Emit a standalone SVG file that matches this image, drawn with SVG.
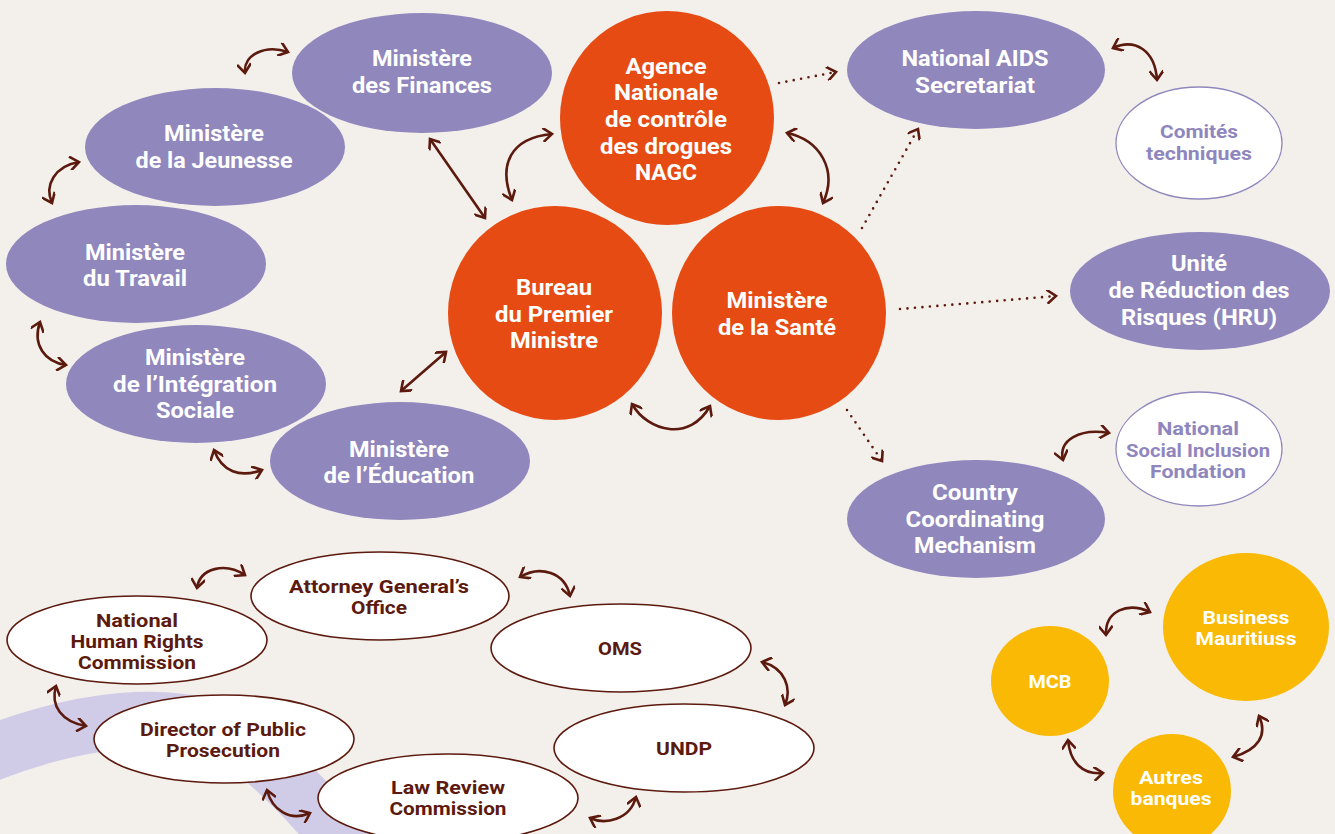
<svg xmlns="http://www.w3.org/2000/svg" width="1335" height="834" viewBox="0 0 1335 834">
<defs>
<marker id="ah" viewBox="0 0 14 14" refX="11" refY="7" markerWidth="14" markerHeight="14" markerUnits="userSpaceOnUse" orient="auto-start-reverse">
<path d="M 2 0 L 11 7 L 2 14" fill="none" stroke="#5c1a0e" stroke-width="2.6"/>
</marker>
<style>
.pur{fill:#9087bd}
.org{fill:#e64b13}
.yel{fill:#f9b904}
.wl{fill:#ffffff;stroke:#9087bd;stroke-width:1.3}
.wb{fill:#ffffff;stroke:#5c1a0e;stroke-width:1.6}
text{font-family:Roboto,"Noto Sans","DejaVu Sans",sans-serif;font-weight:700;text-anchor:middle}
.tw{fill:#ffffff;font-size:22px}
.tl{fill:#8f86be;font-size:19px}
.ty{fill:#ffffff;font-size:19px}
.tb{fill:#5c1a0e;font-size:19px}
.arr{fill:none;stroke:#5c1a0e;stroke-width:2.6;marker-start:url(#ah);marker-end:url(#ah)}
.dot{fill:none;stroke:#5c1a0e;stroke-width:2.6;stroke-linecap:round;stroke-dasharray:0 7.5;marker-end:url(#ah)}
</style>
</defs>
<rect width="1335" height="834" fill="#f3efeb"/>
<path d="M -30 762 C 60 722 190 696 255 752 C 292 784 330 822 362 870" fill="none" stroke="#d0cce8" stroke-width="56"/>

<g id="connectors">
<path class="arr" d="M 245 73 C 243 55 265 44 288 52"/>
<path class="arr" d="M 52 203 C 44 185 55 166 79 162"/>
<path class="arr" d="M 40 322 C 32 345 45 362 66 365"/>
<path class="arr" d="M 214 450 C 222 472 240 478 262 470"/>
<path class="arr" d="M 401 391 L 446 352"/>
<path class="arr" d="M 430 139 L 485 218"/>
<path class="arr" d="M 512 200 C 498 165 510 138 552 134"/>
<path class="arr" d="M 787 133 C 820 140 838 170 823 203"/>
<path class="arr" d="M 632 404 C 648 432 690 442 710 406"/>
<path class="dot" d="M 779 83 L 836 72"/>
<path class="dot" d="M 862 228 L 918 129"/>
<path class="dot" d="M 900 309 L 1056 296"/>
<path class="dot" d="M 847 410 L 882 461"/>
<path class="arr" d="M 1113 48 C 1135 38 1155 50 1157 80"/>
<path class="arr" d="M 1063 460 C 1058 440 1080 428 1109 433"/>
<path class="arr" d="M 197 588 C 200 568 225 562 245 575"/>
<path class="arr" d="M 520 577 C 540 565 565 572 570 596"/>
<path class="arr" d="M 762 662 C 785 668 792 688 785 705"/>
<path class="arr" d="M 56 686 C 50 706 62 722 86 726"/>
<path class="arr" d="M 267 790 C 272 810 290 822 310 813"/>
<path class="arr" d="M 590 818 C 605 825 630 820 636 797"/>
<path class="arr" d="M 1106 635 C 1105 610 1128 602 1150 612"/>
<path class="arr" d="M 1068 740 C 1070 762 1082 775 1103 773"/>
<path class="arr" d="M 1233 757 C 1258 750 1268 735 1259 716"/>
</g>

<g id="finances"><ellipse class="pur" cx="422" cy="73" rx="130" ry="60"/>
<text class="tw" x="422" y="66" textLength="100" lengthAdjust="spacingAndGlyphs">Ministère</text>
<text class="tw" x="422" y="93" textLength="140" lengthAdjust="spacingAndGlyphs">des Finances</text></g>

<g id="jeunesse"><ellipse class="pur" cx="215" cy="147" rx="130" ry="59"/>
<text class="tw" x="214" y="141" textLength="100" lengthAdjust="spacingAndGlyphs">Ministère</text>
<text class="tw" x="214" y="168" textLength="157" lengthAdjust="spacingAndGlyphs">de la Jeunesse</text></g>

<g id="travail"><ellipse class="pur" cx="136" cy="264" rx="130" ry="59"/>
<text class="tw" x="135" y="260" textLength="100" lengthAdjust="spacingAndGlyphs">Ministère</text>
<text class="tw" x="135" y="286" textLength="104" lengthAdjust="spacingAndGlyphs">du Travail</text></g>

<g id="integration"><ellipse class="pur" cx="196" cy="384" rx="130" ry="59"/>
<text class="tw" x="195" y="365" textLength="100" lengthAdjust="spacingAndGlyphs">Ministère</text>
<text class="tw" x="195" y="392" textLength="164" lengthAdjust="spacingAndGlyphs">de l’Intégration</text>
<text class="tw" x="195" y="418" textLength="78" lengthAdjust="spacingAndGlyphs">Sociale</text></g>

<g id="education"><ellipse class="pur" cx="400" cy="461" rx="130" ry="59"/>
<text class="tw" x="399" y="457" textLength="100" lengthAdjust="spacingAndGlyphs">Ministère</text>
<text class="tw" x="399" y="483" textLength="151" lengthAdjust="spacingAndGlyphs">de l’Éducation</text></g>

<g id="agence"><circle class="org" cx="667" cy="118" r="107"/>
<text class="tw" x="666" y="74" textLength="81" lengthAdjust="spacingAndGlyphs">Agence</text>
<text class="tw" x="666" y="100" textLength="104" lengthAdjust="spacingAndGlyphs">Nationale</text>
<text class="tw" x="666" y="127" textLength="122" lengthAdjust="spacingAndGlyphs">de contrôle</text>
<text class="tw" x="666" y="154" textLength="132" lengthAdjust="spacingAndGlyphs">des drogues</text>
<text class="tw" x="666" y="180" textLength="62" lengthAdjust="spacingAndGlyphs">NAGC</text></g>

<g id="bureau"><circle class="org" cx="555" cy="313" r="107"/>
<text class="tw" x="554" y="295" textLength="76" lengthAdjust="spacingAndGlyphs">Bureau</text>
<text class="tw" x="554" y="322" textLength="118" lengthAdjust="spacingAndGlyphs">du Premier</text>
<text class="tw" x="554" y="348" textLength="88" lengthAdjust="spacingAndGlyphs">Ministre</text></g>

<g id="sante"><circle class="org" cx="779" cy="313" r="107"/>
<text class="tw" x="777" y="308" textLength="101" lengthAdjust="spacingAndGlyphs">Ministère</text>
<text class="tw" x="777" y="335" textLength="118" lengthAdjust="spacingAndGlyphs">de la Santé</text></g>

<g id="aids"><ellipse class="pur" cx="976" cy="70" rx="129" ry="59"/>
<text class="tw" x="975" y="66" textLength="147" lengthAdjust="spacingAndGlyphs">National AIDS</text>
<text class="tw" x="975" y="93" textLength="120" lengthAdjust="spacingAndGlyphs">Secretariat</text></g>

<g id="comites"><ellipse class="wl" cx="1199" cy="143" rx="83" ry="56"/>
<text class="tl" x="1199" y="138" textLength="78" lengthAdjust="spacingAndGlyphs">Comités</text>
<text class="tl" x="1199" y="160" textLength="106" lengthAdjust="spacingAndGlyphs">techniques</text></g>

<g id="unite"><ellipse class="pur" cx="1200" cy="291" rx="130" ry="59"/>
<text class="tw" x="1199" y="271" textLength="56" lengthAdjust="spacingAndGlyphs">Unité</text>
<text class="tw" x="1199" y="298" textLength="181" lengthAdjust="spacingAndGlyphs">de Réduction des</text>
<text class="tw" x="1199" y="325" textLength="156" lengthAdjust="spacingAndGlyphs">Risques (HRU)</text></g>

<g id="nsif"><ellipse class="wl" cx="1199" cy="449" rx="83" ry="57"/>
<text class="tl" x="1198" y="435" textLength="82" lengthAdjust="spacingAndGlyphs">National</text>
<text class="tl" x="1198" y="457" textLength="144" lengthAdjust="spacingAndGlyphs">Social Inclusion</text>
<text class="tl" x="1198" y="478" textLength="96" lengthAdjust="spacingAndGlyphs">Fondation</text></g>

<g id="ccm"><ellipse class="pur" cx="976" cy="519" rx="129" ry="59"/>
<text class="tw" x="975" y="500" textLength="86" lengthAdjust="spacingAndGlyphs">Country</text>
<text class="tw" x="975" y="527" textLength="139" lengthAdjust="spacingAndGlyphs">Coordinating</text>
<text class="tw" x="975" y="553" textLength="122" lengthAdjust="spacingAndGlyphs">Mechanism</text></g>

<g id="business"><ellipse class="yel" cx="1246" cy="627" rx="83" ry="74"/>
<text class="ty" x="1246" y="624" textLength="87" lengthAdjust="spacingAndGlyphs">Business</text>
<text class="ty" x="1246" y="645" textLength="101" lengthAdjust="spacingAndGlyphs">Mauritiuss</text></g>

<g id="mcb"><ellipse class="yel" cx="1050" cy="681" rx="59" ry="55"/>
<text class="ty" x="1050" y="688" textLength="43" lengthAdjust="spacingAndGlyphs">MCB</text></g>

<g id="autres"><ellipse class="yel" cx="1172" cy="791" rx="59" ry="57"/>
<text class="ty" x="1171" y="784" textLength="64" lengthAdjust="spacingAndGlyphs">Autres</text>
<text class="ty" x="1171" y="805" textLength="81" lengthAdjust="spacingAndGlyphs">banques</text></g>

<g id="attorney"><ellipse class="wb" cx="380" cy="596" rx="129" ry="44"/>
<text class="tb" x="379" y="593" textLength="180" lengthAdjust="spacingAndGlyphs">Attorney General’s</text>
<text class="tb" x="379" y="614" textLength="56" lengthAdjust="spacingAndGlyphs">Office</text></g>

<g id="nhrc"><ellipse class="wb" cx="137" cy="640" rx="130" ry="44"/>
<text class="tb" x="137" y="627" textLength="82" lengthAdjust="spacingAndGlyphs">National</text>
<text class="tb" x="137" y="648" textLength="133" lengthAdjust="spacingAndGlyphs">Human Rights</text>
<text class="tb" x="137" y="669" textLength="118" lengthAdjust="spacingAndGlyphs">Commission</text></g>

<g id="oms"><ellipse class="wb" cx="621" cy="648" rx="130" ry="44"/>
<text class="tb" x="620" y="655" textLength="44" lengthAdjust="spacingAndGlyphs">OMS</text></g>

<g id="director"><ellipse class="wb" cx="224" cy="739" rx="130" ry="44"/>
<text class="tb" x="223" y="736" textLength="166" lengthAdjust="spacingAndGlyphs">Director of Public</text>
<text class="tb" x="223" y="757" textLength="114" lengthAdjust="spacingAndGlyphs">Prosecution</text></g>

<g id="undp"><ellipse class="wb" cx="684" cy="748" rx="130" ry="44"/>
<text class="tb" x="684" y="755" textLength="56" lengthAdjust="spacingAndGlyphs">UNDP</text></g>

<g id="lawreview"><ellipse class="wb" cx="448" cy="798" rx="130" ry="44"/>
<text class="tb" x="448" y="794" textLength="114" lengthAdjust="spacingAndGlyphs">Law Review</text>
<text class="tb" x="448" y="815" textLength="117" lengthAdjust="spacingAndGlyphs">Commission</text></g>
</svg>
